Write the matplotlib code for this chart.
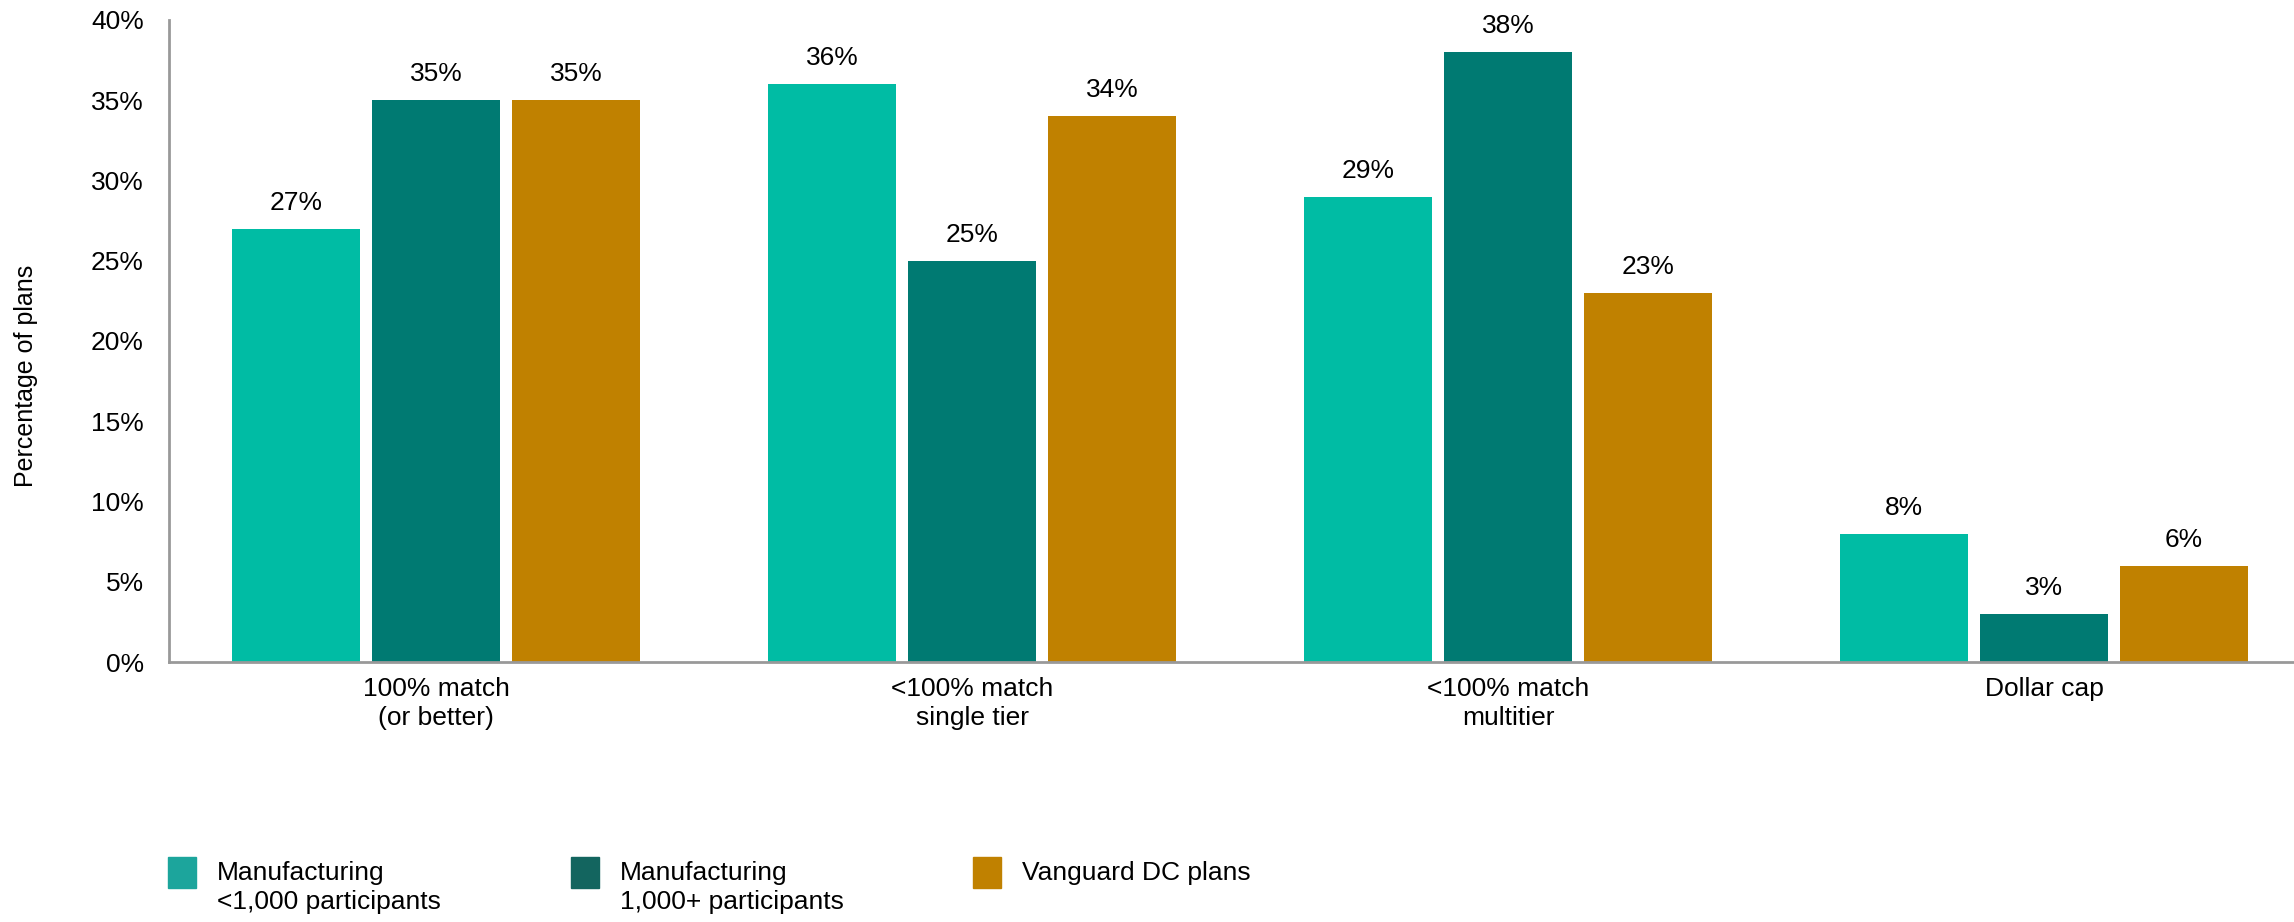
import numpy as np
import matplotlib
matplotlib.use("Agg")
import matplotlib.pyplot as plt
from matplotlib.patches import Rectangle

plt.rcParams["font.family"] = ["Liberation Sans", "DejaVu Sans"]

categories = ["100% match\n(or better)", "<100% match\nsingle tier", "<100% match\nmultitier", "Dollar cap"]
series_names = ["Manufacturing\n<1,000 participants", "Manufacturing\n1,000+ participants", "Vanguard DC plans"]
small_mfg = [27, 36, 29, 8]
large_mfg = [35, 25, 38, 3]
vanguard = [35, 34, 23, 6]
bar_colors = ["#00BCA4", "#007A72", "#C08100"]
legend_colors = ["#1CA59C", "#13655F", "#C08100"]

fig = plt.figure(figsize=(22.94, 9.22), dpi=100)
ax = fig.add_axes([169 / 2294, 1 - 662 / 922, 1 - 169 / 2294, (662 - 20) / 922])

x = np.arange(len(categories))
width = 0.239
step = 0.261
for i, vals in enumerate([small_mfg, large_mfg, vanguard]):
    pos = x + (i - 1) * step
    ax.bar(pos, vals, width=width, color=bar_colors[i])
    for p, v in zip(pos, vals):
        ax.annotate(f"{v}%", (p, v), xytext=(0, 10), textcoords="offset points",
                    ha="center", va="bottom", fontsize=19)

ax.set_xlim(-0.498, 3.466)
ax.set_ylim(0, 40)
ax.set_yticks(range(0, 41, 5))
ax.set_yticklabels([f"{t}%" for t in range(0, 41, 5)], fontsize=19)
ax.set_xticks(x)
ax.set_xticklabels(categories, fontsize=19, linespacing=1.25)
ax.tick_params(axis="y", length=0, pad=18)
ax.tick_params(axis="x", length=0, pad=11)
for s in ["top", "right"]:
    ax.spines[s].set_visible(False)
for s in ["left", "bottom"]:
    ax.spines[s].set_color("#999999")
    ax.spines[s].set_linewidth(2)

fig.text(26 / 2294, 1 - 376 / 922, "Percentage of plans", rotation=90,
         ha="center", va="center", fontsize=18)

# legend drawn by hand so the swatch lines up with the first text line
legend_x = [168, 571, 973]
for lx, name, c in zip(legend_x, series_names, legend_colors):
    fig.add_artist(Rectangle((lx / 2294, 1 - 888 / 922), 28 / 2294, 31 / 922,
                             transform=fig.transFigure, color=c))
    fig.text((lx + 49) / 2294, 1 - 861 / 922, name, ha="left", va="top",
             fontsize=19, linespacing=1.25)

fig.savefig("out.png", dpi=100)
